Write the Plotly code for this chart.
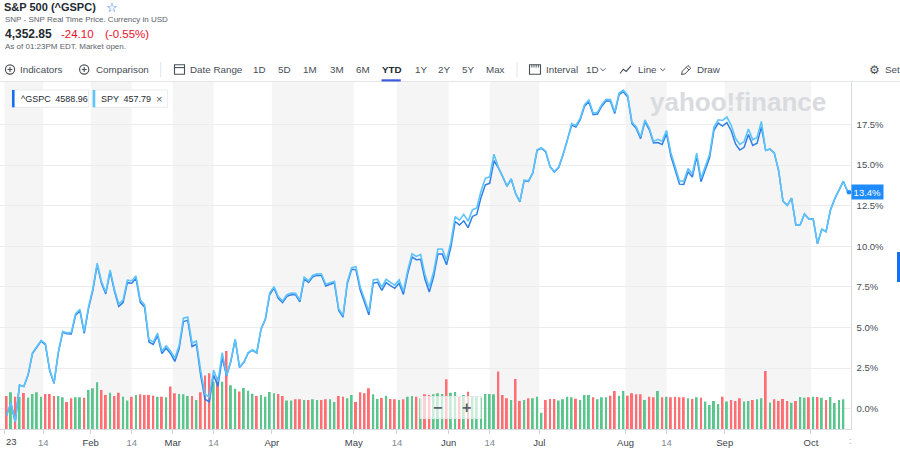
import pandas as pd
import plotly.graph_objects as go

W, H = 900, 468

# ---------------- data ----------------
holidays = ["2023-01-16", "2023-02-20", "2023-04-07", "2023-05-29",
            "2023-06-19", "2023-07-04", "2023-09-04"]
dates = [d.strftime("%Y-%m-%d") for d in pd.bdate_range("2023-01-03", "2023-10-12")
         if d.strftime("%Y-%m-%d") not in holidays]

# YTD % change of ^GSPC (darker line)
gspc_pct = [
    -0.40, 0.35, -0.82, 1.45, 1.37, 2.08, 3.39, 3.74, 4.16, 3.95,
    2.33, 1.55, 3.47, 4.70, 4.62, 4.60, 5.75, 6.02, 4.64, 6.18,
    7.29, 8.86, 7.73, 7.07, 8.45, 7.25, 6.30, 6.54, 7.76, 7.73,
    8.02, 6.54, 6.24, 4.11, 3.95, 4.50, 3.40, 3.72, 3.40, 2.91,
    3.69, 5.37, 5.44, 3.83, 3.97, 2.05, 0.58, 0.42, 2.08, 1.37,
    3.15, 2.01, 2.92, 4.25, 2.54, 2.84, 3.42, 3.60, 3.43, 4.90,
    5.50, 7.03, 7.42, 6.80, 6.53, 6.92, 7.02, 7.01, 6.58, 7.99,
    7.77, 8.12, 8.21, 8.20, 7.56, 7.66, 7.75, 6.05, 5.64, 7.71,
    8.59, 8.55, 7.29, 6.54, 5.77, 7.73, 7.78, 7.28, 7.77, 7.58,
    7.41, 7.73, 7.04, 8.32, 9.34, 9.18, 9.20, 7.97, 7.18, 8.12,
    9.53, 9.53, 8.86, 9.94, 11.53, 11.31, 11.57, 11.15, 11.84, 11.96,
    13.01, 13.79, 13.88, 15.27, 14.85, 14.30, 13.70, 14.13, 13.25, 12.74,
    14.04, 14.00, 14.51, 15.91, 16.05, 15.82, 14.90, 14.57, 14.85, 15.62,
    16.48, 17.46, 17.34, 17.80, 18.63, 18.91, 18.11, 18.15, 18.63, 18.96,
    18.94, 18.18, 19.34, 19.52, 19.20, 17.55, 17.25, 16.63, 17.68, 17.19,
    16.36, 16.39, 16.27, 16.94, 15.58, 14.71, 13.83, 13.81, 14.59, 14.27,
    15.54, 13.98, 14.75, 15.47, 17.14, 17.59, 17.40, 17.61, 17.12, 16.30,
    15.93, 16.10, 16.88, 16.21, 16.35, 17.34, 15.91, 15.99, 15.74, 14.66,
    12.78, 12.52, 12.97, 11.30, 11.33, 11.99, 11.68, 11.69, 10.16, 11.05,
    10.90, 12.22, 12.92, 13.51, 14.00, 13.37,
]

# YTD % change of SPY (lighter line)
spy_pct = [
    -0.40, 0.35, -0.82, 1.45, 1.37, 2.13, 3.44, 3.79, 4.21, 4.00,
    2.38, 1.60, 3.52, 4.75, 4.67, 4.70, 5.85, 6.12, 4.74, 6.28,
    7.39, 8.96, 7.83, 7.17, 8.55, 7.35, 6.45, 6.69, 7.91, 7.88,
    8.17, 6.69, 6.39, 4.26, 4.10, 4.65, 3.55, 3.87, 3.55, 3.11,
    3.89, 5.57, 5.64, 4.03, 4.17, 2.35, 0.88, 0.72, 2.38, 1.67,
    3.45, 2.04, 2.95, 4.28, 2.57, 2.87, 3.45, 3.63, 3.46, 4.93,
    5.53, 7.13, 7.52, 6.90, 6.63, 7.02, 7.12, 7.11, 6.68, 8.09,
    7.87, 8.22, 8.31, 8.30, 7.66, 7.76, 7.85, 6.15, 5.74, 7.81,
    8.69, 8.75, 7.49, 6.74, 5.97, 7.93, 7.98, 7.48, 7.97, 7.78,
    7.61, 7.93, 7.24, 8.52, 9.54, 9.38, 9.50, 8.27, 7.48, 8.42,
    9.83, 9.83, 9.16, 10.24, 11.83, 11.61, 11.97, 11.55, 12.24, 12.36,
    13.41, 14.19, 14.28, 15.67, 14.88, 14.33, 13.73, 14.16, 13.28, 12.77,
    14.07, 14.03, 14.54, 15.94, 16.08, 15.85, 14.93, 14.60, 14.88, 15.65,
    16.51, 17.56, 17.44, 17.90, 18.73, 19.01, 18.21, 18.25, 18.73, 19.06,
    19.04, 18.28, 19.44, 19.62, 19.30, 17.65, 17.35, 16.73, 17.78, 17.29,
    16.46, 16.59, 16.47, 17.14, 15.78, 14.91, 14.03, 14.01, 14.79, 14.47,
    15.74, 14.18, 14.95, 15.67, 17.34, 17.79, 17.75, 17.96, 17.47, 16.65,
    16.28, 16.45, 17.23, 16.56, 16.70, 17.69, 15.91, 15.99, 15.74, 14.66,
    12.78, 12.52, 12.97, 11.30, 11.33, 11.99, 11.68, 11.69, 10.16, 11.05,
    10.90, 12.22, 12.92, 13.51, 14.00, 13.37,
]

# daily volume, billions of shares (last session has no bar yet)
volume_bn = [
    4.02, 4.46, 3.94, 3.94, 4.38, 3.82, 4.26, 4.46, 3.94, 4.26,
    4.26, 4.02, 4.02, 3.86, 3.30, 3.74, 3.86, 3.86, 3.82, 4.74,
    4.95, 5.67, 4.74, 4.14, 4.42, 4.02, 4.42, 3.94, 3.46, 3.94,
    4.14, 4.22, 4.14, 4.14, 4.06, 3.94, 3.94, 3.86, 5.15, 4.34,
    4.26, 4.22, 4.02, 4.02, 3.54, 4.46, 6.50, 6.75, 5.75, 6.30,
    5.75, 9.45, 5.30, 4.90, 4.55, 4.98, 4.65, 4.30, 4.02, 4.15,
    3.94, 4.50, 4.34, 4.26, 4.02, 3.46, 3.46, 3.62, 3.62, 3.54,
    3.54, 3.62, 3.54, 3.54, 3.62, 3.62, 3.30, 4.02, 3.94, 3.74,
    4.14, 3.30, 4.46, 4.34, 4.95, 4.22, 3.66, 3.78, 4.06, 3.66,
    3.62, 3.54, 3.62, 3.94, 4.02, 3.94, 3.74, 4.22, 4.14, 4.22,
    4.34, 4.26, 6.03, 4.42, 4.50, 3.94, 4.14, 4.54, 4.02, 3.94,
    3.86, 4.26, 4.26, 4.22, 6.96, 4.14, 3.74, 3.54, 6.07, 3.42,
    3.54, 3.74, 3.74, 3.94, 2.01, 3.54, 3.66, 3.66, 3.46, 3.62,
    3.94, 3.86, 3.70, 3.54, 4.14, 4.14, 3.86, 3.62, 3.86, 3.86,
    4.06, 4.62, 4.06, 4.62, 4.06, 4.34, 4.22, 4.22, 3.54, 3.94,
    3.86, 4.62, 3.86, 3.94, 3.86, 3.94, 3.86, 3.86, 3.74, 3.66,
    3.86, 3.82, 3.34, 2.94, 3.42, 3.06, 3.94, 3.34, 3.54, 3.42,
    3.74, 3.34, 3.42, 3.54, 3.62, 3.74, 7.04, 3.22, 3.62, 3.42,
    3.66, 3.40, 3.20, 3.40, 3.90, 3.82, 3.86, 3.94, 3.90, 3.82,
    3.54, 3.90, 3.18, 3.54, 3.62, None,
]

tick_dates = ["2023-01-01", "2023-01-14", "2023-02-01", "2023-02-14", "2023-03-01",
              "2023-03-14", "2023-04-01", "2023-05-01", "2023-05-14", "2023-06-01",
              "2023-06-14", "2023-07-01", "2023-08-01", "2023-08-14", "2023-09-01",
              "2023-10-01"]
tick_labels = ["23", "14", "Feb", "14", "Mar", "14", "Apr", "May", "14", "Jun",
               "14", "Jul", "Aug", "14", "Sep", "Oct"]

pct_ticks = [0.0, 2.5, 5.0, 7.5, 10.0, 12.5, 15.0, 17.5]

# ---------------- helpers ----------------
n = min(len(dates), len(gspc_pct), len(spy_pct), len(volume_bn))
dates = dates[:n]
xs = list(range(n))


def px(x):
    return x / W


def py(y):
    return 1 - y / H


def tick_pos(day):
    k = sum(1 for d in dates if d < day)
    if day in dates and day.endswith("-14"):
        return k
    return k - 0.5


tick_x = [tick_pos(d) for d in tick_dates]
tick_txt = []
for i, t in enumerate(tick_labels):
    if i == 0:
        tick_txt.append("")          # first label drawn as a clipped annotation below
    elif t == "14":
        tick_txt.append("<span style='color:#7f8a93'>%s</span>" % t)
    else:
        tick_txt.append(t)

bar_colors = []
prev = 0.0
for v in gspc_pct[:n]:
    bar_colors.append("#5ac58c" if v >= prev else "#ff6e72")
    prev = v

PLOT_L, PLOT_R, PLOT_T, PLOT_B = 0.0, 850.7, 82.0, 429.3
XR = [-1.53, 195.71]
YR = [-1.27, 20.12]
VR = [0, 41.9]

fig = go.Figure()
fig.add_trace(go.Bar(x=xs, y=volume_bn[:n], marker=dict(color=bar_colors, line=dict(width=0)),
                     width=0.46, xaxis="x", yaxis="y", hoverinfo="skip"))
fig.add_trace(go.Scatter(x=xs, y=gspc_pct[:n], mode="lines", xaxis="x", yaxis="y2",
                         line=dict(color="#2f7fe6", width=1.5), hoverinfo="skip"))
fig.add_trace(go.Scatter(x=xs, y=spy_pct[:n], mode="lines", xaxis="x", yaxis="y2",
                         line=dict(color="#5cc4fb", width=1.6), hoverinfo="skip"))

shapes = []
# alternating background bands
for k in range(0, len(tick_x) - 1, 2):
    shapes.append(dict(type="rect", xref="x", yref="paper", x0=tick_x[k], x1=tick_x[k + 1],
                       y0=py(PLOT_B), y1=py(PLOT_T), fillcolor="#f5f5f5",
                       line=dict(width=0), layer="below"))


def line_px(x0, y0, x1, y1, color="#464e56", w=1.1):
    shapes.append(dict(type="line", xref="paper", yref="paper", x0=px(x0), y0=py(y0),
                       x1=px(x1), y1=py(y1), line=dict(color=color, width=w)))


def rect_px(x0, y0, x1, y1, fill=None, color=None, w=0):
    shapes.append(dict(type="rect", xref="paper", yref="paper", x0=px(x0), y0=py(y1),
                       x1=px(x1), y1=py(y0), fillcolor=fill or "rgba(0,0,0,0)",
                       line=dict(color=color or "rgba(0,0,0,0)", width=w)))


def circle_px(cx, cy, r, fill=None, color=None, w=0):
    shapes.append(dict(type="circle", xref="paper", yref="paper", x0=px(cx - r), y0=py(cy + r),
                       x1=px(cx + r), y1=py(cy - r), fillcolor=fill or "rgba(0,0,0,0)",
                       line=dict(color=color or "rgba(0,0,0,0)", width=w)))


def path_px(points, color="#464e56", w=1.1, closed=False, fill=None):
    d = "M" + " L".join("%.5f,%.5f" % (px(a), py(b)) for a, b in points)
    if closed:
        d += " Z"
    shapes.append(dict(type="path", xref="paper", yref="paper", path=d,
                       line=dict(color=color, width=w), fillcolor=fill or "rgba(0,0,0,0)"))


# separator under toolbar
line_px(0, 81.5, 900, 81.5, color="#e3e6ea", w=1)

# toolbar icons
for cx in (10.0, 84.2):
    circle_px(cx, 69.5, 4.6, color="#464e56", w=1.1)
    line_px(cx - 2.4, 69.5, cx + 2.4, 69.5)
    line_px(cx, 67.1, cx, 71.9)
line_px(160.7, 62, 160.7, 77, color="#e0e4e9", w=1)
line_px(517, 62, 517, 77, color="#e0e4e9", w=1)
# calendar
rect_px(174.5, 64.8, 184.5, 74.3, color="#464e56", w=1.1)
line_px(174.5, 67.6, 184.5, 67.6)
# interval
rect_px(529.5, 64.8, 540.5, 74.3, color="#464e56", w=1.1)
for xx in (531.8, 534, 536.2, 538.4):
    line_px(xx, 64.8, xx, 67.6, w=0.9)
# chevrons
path_px([(600.5, 68.3), (603, 70.8), (605.5, 68.3)], w=0.9)
path_px([(660.3, 68.3), (662.8, 70.8), (665.3, 68.3)], w=0.9)
# line icon
path_px([(620, 73.5), (623.3, 69.2), (626.2, 71.4), (631, 65.8)], w=1.1)
# pencil
path_px([(681.5, 74.5), (682.3, 71.2), (688, 65.5), (690.7, 68.2), (685, 73.8)], closed=True, w=1.0)
line_px(686.2, 67.3, 688.9, 70.0, w=1.0)
# YTD underline
rect_px(381.5, 79.3, 400.8, 81.5, fill="#3d5bd9")

# legend chips
rect_px(12, 90, 88.7, 107.3, fill="white", color="#e3e6ea", w=0.8)
rect_px(12, 90, 14.6, 107.3, fill="#1470f0")
rect_px(92.7, 90, 167.7, 107.3, fill="white", color="#e3e6ea", w=0.8)
rect_px(92.7, 90, 95.3, 107.3, fill="#5bc7fb")

# zoom control overlay
shapes.append(dict(type="rect", xref="paper", yref="paper", x0=px(420), x1=px(481),
                   y0=py(418.5), y1=py(396.5), fillcolor="rgba(255,255,255,0.68)",
                   line=dict(color="#e6e8eb", width=0.8), layer="above"))

# end-of-line marker + right side tab
circle_px(849, 192.3, 2.3, fill="#1e8cff")
rect_px(897, 252, 900, 282, fill="#1470f0")

annotations = []


def label(x, y, text, size, color="#232a31", anchor="left", family=None):
    a = dict(xref="paper", yref="paper", x=px(x), y=py(y), text=text, showarrow=False,
             xanchor=anchor, yanchor="middle", font=dict(size=size, color=color),
             borderpad=0)
    if family:
        a["font"]["family"] = family
    annotations.append(a)


# header
label(3, 6.8, "<b>S&amp;P 500 (^GSPC)</b>", 11)
label(111.5, 7.2, "☆", 13, "#1470f0", anchor="center", family="DejaVu Sans")
label(3.5, 20, "SNP - SNP Real Time Price. Currency in USD", 8, "#5b636a")
label(3.5, 34.3, "<b>4,352.85</b>", 12)
label(59.5, 34.3, "-24.10", 11.5, "#eb0f29")
label(103.5, 34.3, "(-0.55%)", 11.5, "#eb0f29")
label(3.5, 46.7, "As of 01:23PM EDT. Market open.", 8, "#5b636a")

# toolbar
tb_y = 69.8
for x, t in [(18.8, "Indicators"), (94.5, "Comparison"), (189, "Date Range"),
             (251.5, "1D"), (277, "5D"), (301.5, "1M"), (328.5, "3M"), (354.5, "6M"),
             (413.5, "1Y"), (436.5, "2Y"), (460.5, "5Y"), (485.5, "Max"),
             (544.5, "Interval"), (584.5, "1D"), (637, "Line"), (695.5, "Draw"),
             (883.5, "Sett")]:
    label(x, tb_y, t, 9.8, "#464e56")
label(380.8, tb_y, "<b>YTD</b>", 9.8, "#232a31")
label(874.5, 70.3, "⚙", 12, "#464e56", anchor="center", family="DejaVu Sans")

# legend chip texts
label(19.5, 98.8, "^GSPC\u20024588.96", 9, "#232a31")
label(99.8, 98.8, "SPY\u2002457.79", 9, "#232a31")
label(158.5, 98.6, "×", 11, "#5b636a", anchor="center")

# watermark
label(737.5, 101.5, "<b>yahoo!finance</b>", 26, "#d9dbdf", anchor="center",
      family="Liberation Sans, Arial, sans-serif")

# zoom control glyphs
label(437.5, 407.5, "<b>−</b>", 16, "#5b636a", anchor="center")
label(466.2, 407.5, "<b>+</b>", 16, "#5b636a", anchor="center")

# first x label (year), clipped at the left edge like the reference
label(4.5, 441.5, tick_labels[0], 9.5, "#3b434a")
# right-end axis marker
label(850.3, 441, ":", 9, "#9aa3ab", anchor="center")

# last value tag
annotations.append(dict(xref="paper", yref="y2", x=px(850.6), y=gspc_pct[n - 1],
                        text="%.1f%%" % gspc_pct[n - 1], showarrow=False, xanchor="left",
                        yanchor="middle", bgcolor="#1e8cff", borderpad=1.6,
                        font=dict(size=9.5, color="white")))

fig.update_layout(
    template="none",
    width=W, height=H, autosize=False,
    margin=dict(l=0, r=0, t=0, b=0, pad=0),
    paper_bgcolor="white", plot_bgcolor="white",
    showlegend=False, hovermode=False,
    font=dict(family="Liberation Sans, Arial, sans-serif", color="#232a31"),
    xaxis=dict(domain=[px(PLOT_L), px(PLOT_R)], range=XR, tickvals=tick_x, ticktext=tick_txt,
               ticks="outside", ticklen=4, tickcolor="#cfd3d8", tickwidth=1,
               showline=True, linecolor="#d8dbdf", linewidth=1, showgrid=False,
               zeroline=False, tickfont=dict(size=9.5, color="#3b434a"),
               ticklabeloverflow="allow", anchor="y", fixedrange=True, automargin=False),
    yaxis=dict(domain=[py(PLOT_B), py(PLOT_T)], range=VR, visible=False, fixedrange=True,
               automargin=False, showgrid=False, zeroline=False),
    yaxis2=dict(domain=[py(PLOT_B), py(PLOT_T)], range=YR, overlaying="y", side="right",
                anchor="x", tickvals=pct_ticks, ticktext=["%.1f%%" % v for v in pct_ticks],
                showgrid=True, gridcolor="#ececec", gridwidth=1, showline=True,
                linecolor="#d8dbdf", linewidth=1, zeroline=False, ticks="",
                ticklabelstandoff=3, tickfont=dict(size=9.5, color="#464e56"),
                fixedrange=True, automargin=False),
    shapes=shapes,
    annotations=annotations,
)

fig.write_html("out.html", config={"displayModeBar": False},
               post_script="document.body.style.margin='0px';document.body.style.overflow='hidden';")
